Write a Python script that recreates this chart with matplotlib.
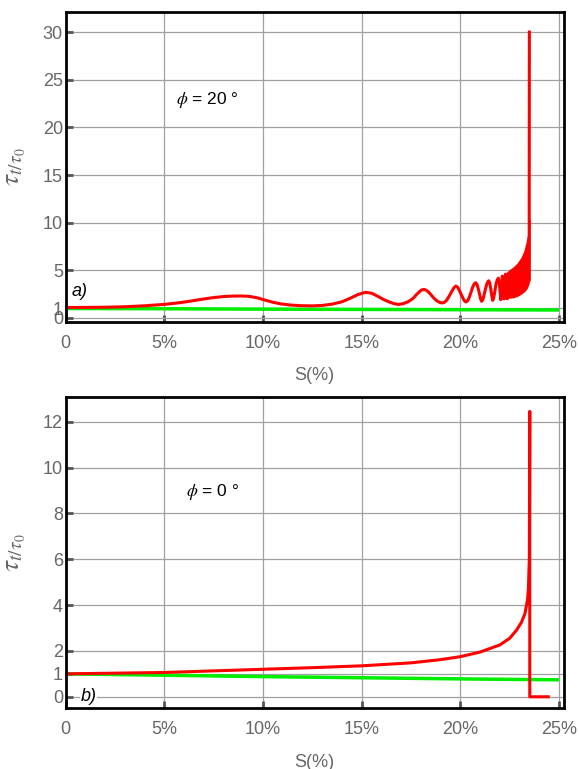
import matplotlib
matplotlib.use("Agg")
import matplotlib.pyplot as plt

plt.rcParams["font.family"] = ["Liberation Sans", "DejaVu Sans"]
plt.rcParams["mathtext.fontset"] = "stix"

# ---- panel a) phi = 20 deg
a_red_x = [0, 1, 2, 3, 4, 5, 5.6, 6.2, 6.8, 7.4, 8.0, 8.5, 8.9, 9.3, 9.7, 10.1,
           10.5, 10.9, 11.4, 11.9, 12.5, 13.0, 13.5, 14.0, 14.4, 14.8, 15.2, 15.5,
           15.8, 16.1, 16.4, 16.65, 16.86, 17.1, 17.35, 17.6, 17.8, 17.95, 18.05,
           18.16, 18.27, 18.4, 18.55, 18.7, 18.85, 18.97, 19.1, 19.2, 19.32, 19.45,
           19.57, 19.67, 19.77, 19.86, 19.95, 20.05, 20.15, 20.22, 20.29, 20.37,
           20.46, 20.55, 20.63, 20.71, 20.78, 20.85, 20.92, 20.98, 21.03, 21.08,
           21.14, 21.2, 21.27, 21.34, 21.4, 21.44, 21.49, 21.54, 21.59, 21.64,
           21.69, 21.75, 21.81, 21.87, 21.93, 21.97, 22.01, 22.05, 22.09, 22.13,
           22.17, 22.21, 22.25, 22.29, 22.33, 22.37]
a_red_y = [1.1, 1.11, 1.13, 1.18, 1.28, 1.43, 1.56, 1.73, 1.93, 2.12, 2.25, 2.3,
           2.31, 2.27, 2.12, 1.88, 1.65, 1.48, 1.36, 1.29, 1.27, 1.32, 1.45, 1.7,
           2.05, 2.45, 2.7, 2.6, 2.3, 1.95, 1.68, 1.5, 1.42, 1.5, 1.7, 2.05, 2.5,
           2.8, 2.95, 3.0, 2.92, 2.7, 2.35, 2.0, 1.75, 1.62, 1.58, 1.65, 1.9, 2.35,
           2.8, 3.15, 3.35, 3.25, 2.9, 2.45, 2.0, 1.78, 1.68, 1.8, 2.2, 2.75, 3.25,
           3.58, 3.7, 3.5, 3.0, 2.45, 2.0, 1.75, 1.9, 2.4, 3.0, 3.55, 3.82, 3.9,
           3.7, 3.1, 2.4, 1.85, 2.1, 2.8, 3.55, 4.0, 4.18, 3.8, 2.9, 1.92, 3.2,
           4.4, 3.0, 2.0, 3.3, 4.6, 3.2, 2.05]
a_band_x = [22.33, 22.5, 22.7, 22.9, 23.1, 23.25, 23.35, 23.45, 23.5]
a_band_lo = [2.1, 2.15, 2.2, 2.35, 2.6, 2.85, 3.1, 3.6, 4.2]
a_band_hi = [4.7, 5.0, 5.3, 5.7, 6.3, 7.0, 7.8, 8.8, 10.3]
a_spike_x = [23.49, 23.5]
a_spike_y = [4.0, 30.0]
a_green_x = [0, 5, 10, 15, 20, 25]
a_green_y = [1.0, 0.97, 0.93, 0.9, 0.87, 0.84]

# ---- panel b) phi = 0 deg
b_red_x = [0, 2.5, 5, 7.5, 10, 12.5, 15, 17.5, 19, 20, 21, 22, 22.5, 22.86,
           23.1, 23.28, 23.4, 23.45, 23.5, 23.52, 23.52, 24.46]
b_red_y = [1.0, 1.03, 1.06, 1.13, 1.2, 1.27, 1.35, 1.48, 1.62, 1.75, 1.95, 2.26,
           2.55, 2.92, 3.25, 3.64, 4.2, 4.66, 6.1, 12.45, 0.0, 0.0]
b_green_x = [0, 5, 10, 15, 20, 25]
b_green_y = [1.0, 0.94, 0.88, 0.83, 0.78, 0.74]

x_ticks = [0, 5, 10, 15, 20, 25]
x_labels = ["0", "5%", "10%", "15%", "20%", "25%"]
a_yticks = [0, 1, 5, 10, 15, 20, 25, 30]
b_yticks = [0, 1, 2, 4, 6, 8, 10, 12]

RED = "#ff0000"
GREEN = "#00ee00"
GRAY = "#666666"

fig = plt.figure(figsize=(5.79, 7.69), dpi=100)
axA = fig.add_axes([65.7 / 579, 1 - 322 / 769, 497.8 / 579, 310 / 769])
axB = fig.add_axes([65.7 / 579, 1 - 708 / 769, 497.8 / 579, 311 / 769])


def style(ax, yticks, ylim):
    ax.set_xlim(0, 25.23)
    ax.set_ylim(*ylim)
    ax.set_xticks(x_ticks)
    ax.set_xticklabels(x_labels)
    ax.set_yticks(yticks)
    ax.set_yticklabels([str(t) for t in yticks])
    ax.grid(True, color="#a0a0a0", lw=0.9)
    ax.set_axisbelow(True)
    for s in ax.spines.values():
        s.set_linewidth(2.0)
        s.set_color("black")
    ax.tick_params(direction="in", length=5, width=2, color="#555555",
                   labelsize=13, labelcolor=GRAY)
    ax.tick_params(axis="x", pad=9)
    ax.tick_params(axis="y", pad=2)
    ax.set_xlabel("S(%)", fontsize=13, color=GRAY)
    ax.set_ylabel(r"$\tau_{t/\tau_0}$", fontsize=20, color=GRAY)
    ax.yaxis.set_label_coords(-0.076, 0.5)


style(axA, a_yticks, (-0.42, 32.1))
axA.xaxis.set_label_coords(0.5, -0.145)
axA.plot(a_green_x, a_green_y, color=GREEN, lw=2.5, solid_capstyle="butt")
axA.plot(a_red_x, a_red_y, color=RED, lw=2.2)
axA.fill_between(a_band_x, a_band_lo, a_band_hi, color=RED, lw=1.0)
axA.plot(a_spike_x, a_spike_y, color=RED, lw=2.2)
axA.text(5.6, 22.9, r"$\phi$ = 20 °", fontsize=12.5, va="center")
axA.text(0.3, 2.8, "a)", fontsize=13, style="italic", va="center")

style(axB, b_yticks, (-0.49, 13.08))
axB.xaxis.set_label_coords(0.5, -0.148)
axB.plot(b_green_x, b_green_y, color=GREEN, lw=2.5, solid_capstyle="butt")
axB.plot(b_red_x, b_red_y, color=RED, lw=2.2)
axB.text(6.1, 8.95, r"$\phi$ = 0 °", fontsize=12.5, va="center")
axB.text(0.75, 0.0, "b)", fontsize=13, style="italic", va="center",
         bbox=dict(facecolor="white", edgecolor="none", pad=0.5))

fig.savefig("out.png", dpi=100)
